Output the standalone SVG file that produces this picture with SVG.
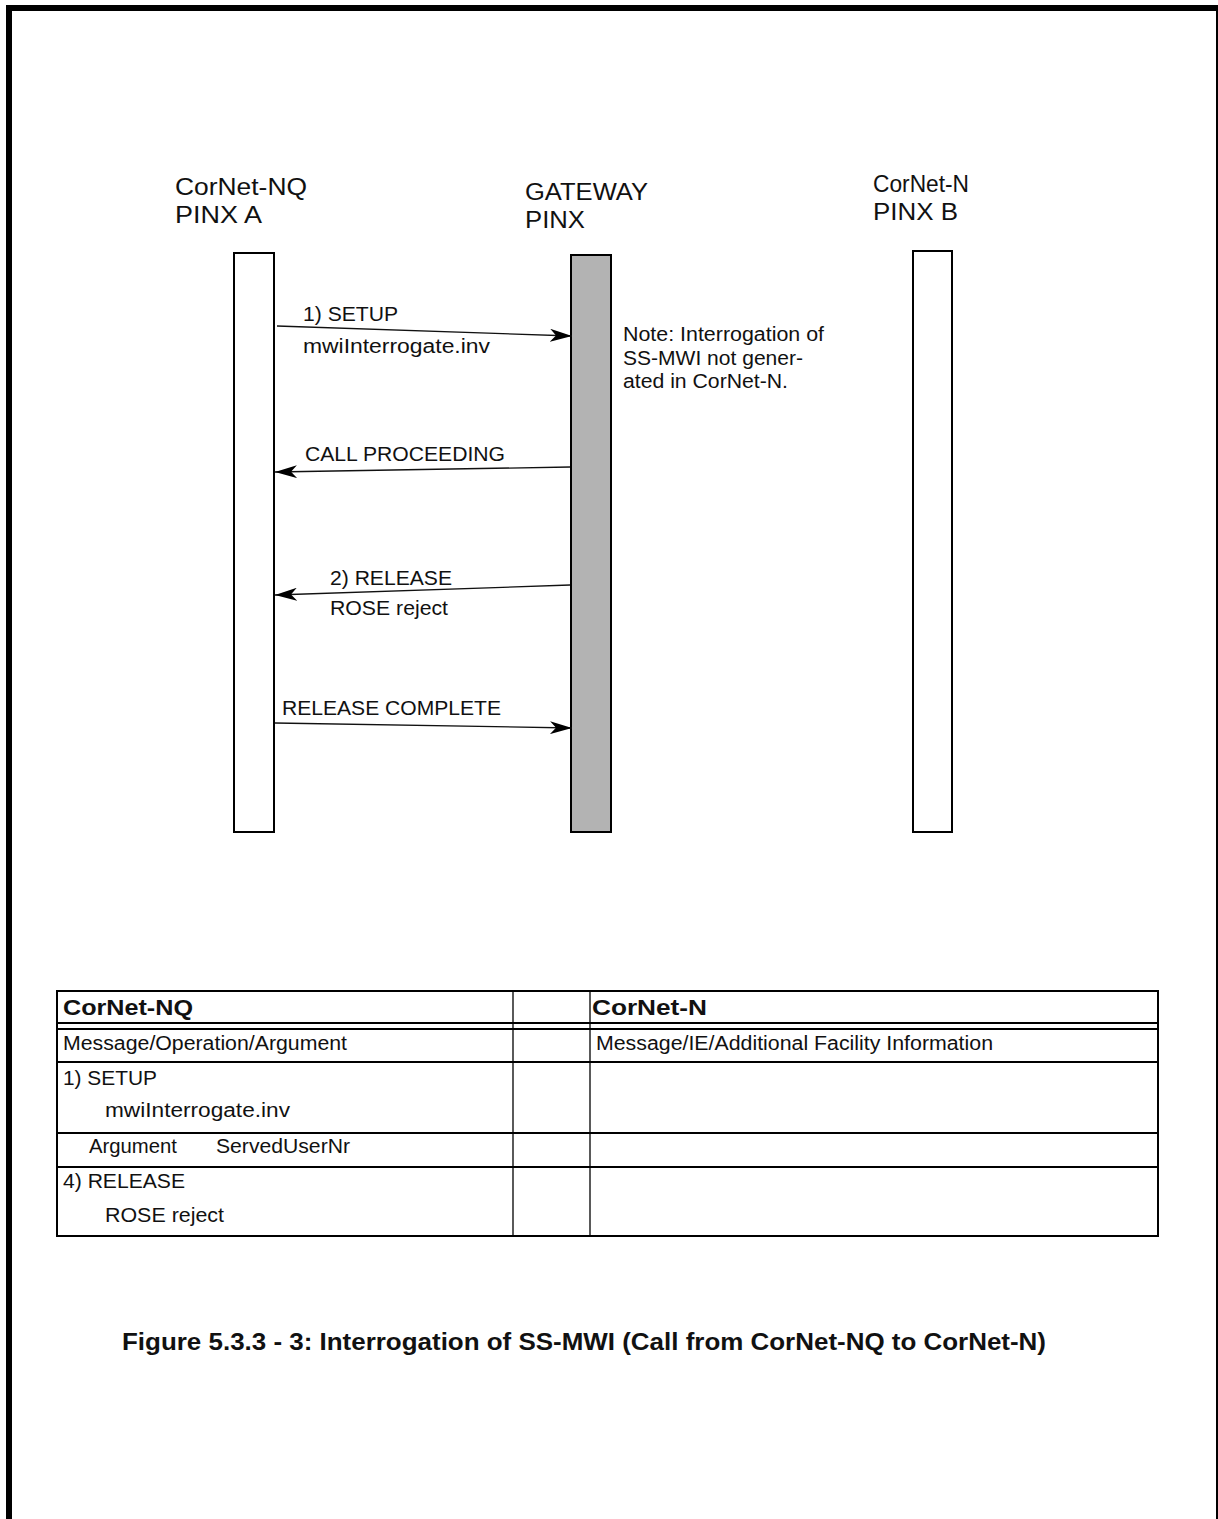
<svg xmlns="http://www.w3.org/2000/svg" width="1218" height="1519" viewBox="0 0 1218 1519">
<defs>
<style>
text { font-family: "Liberation Sans", Arial, sans-serif; fill: #111; }
.hd { font-size: 23px; }
.lb { font-size: 19.5px; }
.tb { font-size: 20px; }
.tbb { font-size: 22px; font-weight: bold; }
.cap { font-size: 23px; font-weight: bold; }
.life { fill: #fff; stroke: #000; stroke-width: 2; }
.gw { fill: #b3b3b3; stroke: #000; stroke-width: 2; }
.msg { stroke: #111; stroke-width: 1.3; fill: none; marker-end: url(#ah); }
.tl { stroke: #000; stroke-width: 2; fill: none; }
.tv { stroke: #000; stroke-width: 1.3; fill: none; }
</style>
<marker id="ah" viewBox="0 0 22 13" refX="22" refY="6.5" markerWidth="22" markerHeight="13" markerUnits="userSpaceOnUse" orient="auto">
<path d="M0,0 L22,6.5 L0,13 L6,6.5 Z" fill="#000"/>
</marker>
</defs>
<rect width="1218" height="1519" fill="#fff"/>
<path d="M9,1519 V8 H1219 V1519" fill="none" stroke="#000" stroke-width="6"/>

<g id="node-pinx-a">
<text class="hd" x="175" y="195" textLength="132" lengthAdjust="spacingAndGlyphs">CorNet-NQ</text>
<text class="hd" x="175" y="223" textLength="87" lengthAdjust="spacingAndGlyphs">PINX A</text>
<rect class="life" x="234" y="253" width="40" height="579"/>
</g>
<g id="node-gateway">
<text class="hd" x="525" y="200" textLength="123" lengthAdjust="spacingAndGlyphs">GATEWAY</text>
<text class="hd" x="525" y="228" textLength="60" lengthAdjust="spacingAndGlyphs">PINX</text>
<rect class="gw" x="571" y="255" width="40" height="577"/>
</g>
<g id="node-pinx-b">
<text class="hd" x="873" y="192" textLength="96" lengthAdjust="spacingAndGlyphs">CorNet-N</text>
<text class="hd" x="873" y="220" textLength="85" lengthAdjust="spacingAndGlyphs">PINX B</text>
<rect class="life" x="913" y="251" width="39" height="581"/>
</g>
<g id="note">
<text class="lb" x="623" y="341" textLength="201" lengthAdjust="spacingAndGlyphs">Note: Interrogation of</text>
<text class="lb" x="623" y="365" textLength="180" lengthAdjust="spacingAndGlyphs">SS-MWI not gener-</text>
<text class="lb" x="623" y="388" textLength="165" lengthAdjust="spacingAndGlyphs">ated in CorNet-N.</text>
</g>

<g id="connectors">
<line class="msg" x1="277" y1="326" x2="572" y2="336"/>
<text class="lb" x="303" y="321" textLength="95" lengthAdjust="spacingAndGlyphs">1) SETUP</text>
<text class="lb" x="303" y="353" textLength="187" lengthAdjust="spacingAndGlyphs">mwiInterrogate.inv</text>

<line class="msg" x1="570" y1="467" x2="275" y2="472"/>
<text class="lb" x="305" y="461" textLength="200" lengthAdjust="spacingAndGlyphs">CALL PROCEEDING</text>

<line class="msg" x1="570" y1="585" x2="275" y2="595"/>
<text class="lb" x="330" y="585" textLength="122" lengthAdjust="spacingAndGlyphs">2) RELEASE</text>
<text class="lb" x="330" y="615" textLength="118" lengthAdjust="spacingAndGlyphs">ROSE reject</text>

<line class="msg" x1="275" y1="723" x2="572" y2="728"/>
<text class="lb" x="282" y="715" textLength="219" lengthAdjust="spacingAndGlyphs">RELEASE COMPLETE</text>
</g>

<g id="table">
<rect class="tl" x="57" y="991" width="1101" height="245"/>
<line class="tl" x1="57" y1="1023" x2="1158" y2="1023"/>
<line class="tl" x1="57" y1="1029" x2="1158" y2="1029"/>
<line class="tl" x1="57" y1="1062" x2="1158" y2="1062"/>
<line class="tl" x1="57" y1="1133" x2="1158" y2="1133"/>
<line class="tl" x1="57" y1="1167" x2="1158" y2="1167"/>
<line class="tv" x1="513" y1="991" x2="513" y2="1236"/>
<line class="tv" x1="590" y1="991" x2="590" y2="1236"/>
<text class="tbb" x="63" y="1015" textLength="130" lengthAdjust="spacingAndGlyphs">CorNet-NQ</text>
<text class="tbb" x="592" y="1015" textLength="115" lengthAdjust="spacingAndGlyphs">CorNet-N</text>
<text class="tb" x="63" y="1050" textLength="284" lengthAdjust="spacingAndGlyphs">Message/Operation/Argument</text>
<text class="tb" x="596" y="1050" textLength="397" lengthAdjust="spacingAndGlyphs">Message/IE/Additional Facility Information</text>
<text class="tb" x="63" y="1085" textLength="94" lengthAdjust="spacingAndGlyphs">1) SETUP</text>
<text class="tb" x="105" y="1117" textLength="185" lengthAdjust="spacingAndGlyphs">mwiInterrogate.inv</text>
<text class="tb" x="89" y="1153" textLength="88" lengthAdjust="spacingAndGlyphs">Argument</text>
<text class="tb" x="216" y="1153" textLength="134" lengthAdjust="spacingAndGlyphs">ServedUserNr</text>
<text class="tb" x="63" y="1188" textLength="122" lengthAdjust="spacingAndGlyphs">4) RELEASE</text>
<text class="tb" x="105" y="1222" textLength="119" lengthAdjust="spacingAndGlyphs">ROSE reject</text>
</g>

<text class="cap" x="122" y="1350" textLength="924" lengthAdjust="spacingAndGlyphs">Figure 5.3.3 - 3: Interrogation of SS-MWI (Call from CorNet-NQ to CorNet-N)</text>
</svg>
